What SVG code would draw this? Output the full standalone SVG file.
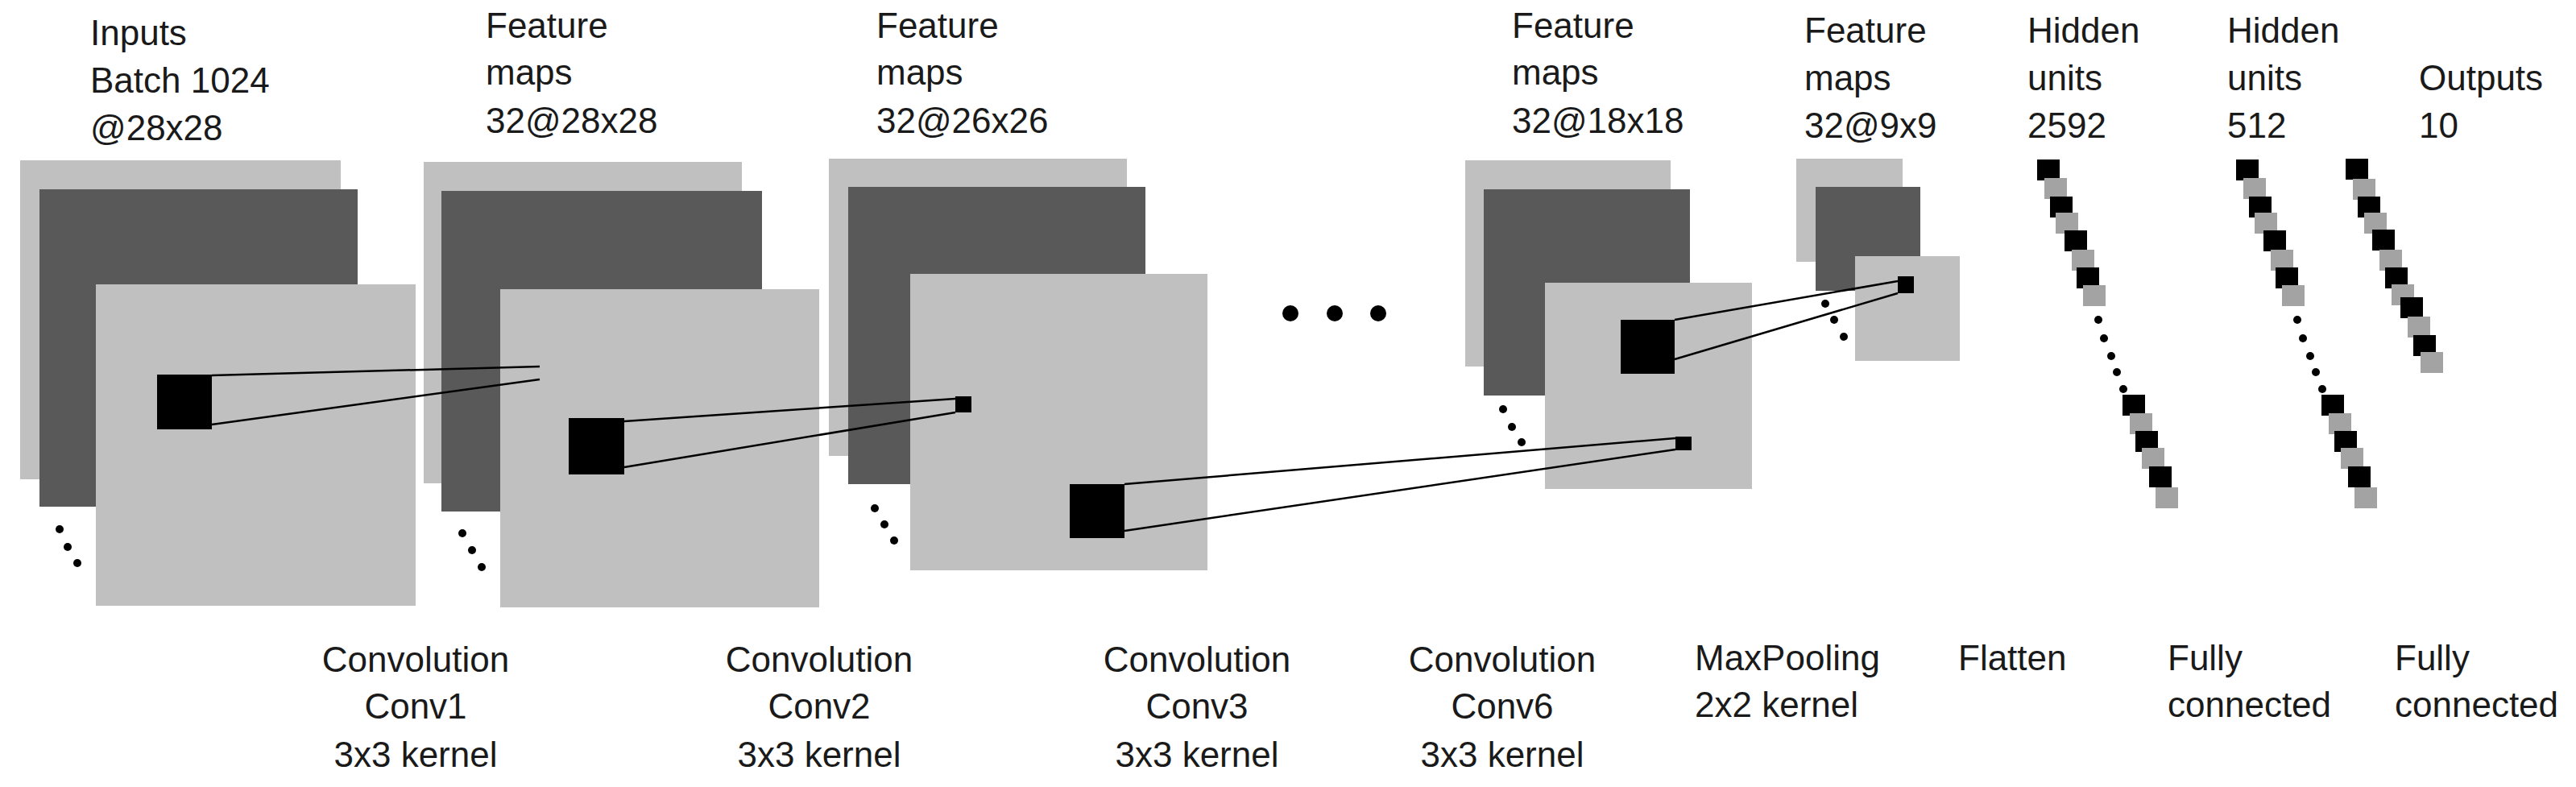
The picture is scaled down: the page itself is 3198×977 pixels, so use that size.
<svg xmlns="http://www.w3.org/2000/svg" width="3198" height="977" viewBox="0 0 3198 977">
<style>
text{font-family:"Liberation Sans",Arial,sans-serif;font-size:44px;fill:#1a1a1a}
.c{text-anchor:middle}
.l{fill:#c0c0c0}.d{fill:#595959}.k{fill:#000}.g{fill:#a3a3a3}
.ln{stroke:#000;stroke-width:2.5;fill:none}
</style>
<defs>
<rect id="bs" x="-14" y="-13" width="28" height="26" fill="#000"/>
<rect id="gs" x="-14" y="-13" width="28" height="26" fill="#a3a3a3"/>
<circle id="dt" r="5" fill="#000"/>
</defs>
<rect width="3198" height="977" fill="#fff"/>
<g id="stack1">
<text x="112" y="56">Inputs</text><text x="112" y="115">Batch 1024</text><text x="112" y="174">@28x28</text>
<rect class="l" x="25" y="199" width="398" height="396"/>
<rect class="d" x="49" y="235" width="395" height="394"/>
<rect class="l" x="119" y="353" width="397" height="399"/>
<rect class="k" x="195" y="465" width="68" height="68"/>
<rect class="k" x="670" y="451" width="21" height="21"/>
<use href="#dt" x="74" y="657"/><use href="#dt" x="84" y="679"/><use href="#dt" x="96" y="699"/>
</g>
<g id="stack2">
<text x="603" y="47">Feature</text><text x="603" y="105">maps</text><text x="603" y="165">32@28x28</text>
<rect class="l" x="526" y="201" width="395" height="399"/>
<rect class="d" x="548" y="237" width="398" height="398"/>
<rect class="l" x="621" y="359" width="396" height="395"/>
<rect class="k" x="706" y="519" width="69" height="70"/>
<use href="#dt" x="574" y="662"/><use href="#dt" x="586" y="683"/><use href="#dt" x="598" y="704"/>
</g>
<g id="stack3">
<text x="1088" y="47">Feature</text><text x="1088" y="105">maps</text><text x="1088" y="165">32@26x26</text>
<rect class="l" x="1029" y="197" width="370" height="369"/>
<rect class="d" x="1053" y="232" width="369" height="369"/>
<rect class="l" x="1130" y="340" width="369" height="368"/>
<rect class="k" x="1186" y="492" width="20" height="20"/>
<rect class="k" x="1328" y="601" width="68" height="67"/>
<use href="#dt" x="1086" y="631"/><use href="#dt" x="1098" y="651"/><use href="#dt" x="1110" y="671"/>
</g>
<g id="ellipsis">
<circle cx="1602" cy="389" r="10"/><circle cx="1657" cy="389" r="10"/><circle cx="1711" cy="389" r="10"/>
</g>
<g id="stack4">
<text x="1877" y="47">Feature</text><text x="1877" y="105">maps</text><text x="1877" y="165">32@18x18</text>
<rect class="l" x="1819" y="199" width="255" height="256"/>
<rect class="d" x="1842" y="235" width="256" height="256"/>
<rect class="l" x="1918" y="351" width="257" height="256"/>
<rect class="k" x="2012" y="397" width="67" height="67"/>
<rect class="k" x="2080" y="542" width="20" height="17"/>
<use href="#dt" x="1866" y="508"/><use href="#dt" x="1877" y="530"/><use href="#dt" x="1889" y="549"/>
</g>
<g id="stack5">
<text x="2240" y="53">Feature</text><text x="2240" y="112">maps</text><text x="2240" y="171">32@9x9</text>
<rect class="l" x="2230" y="197" width="132" height="128"/>
<rect class="d" x="2254" y="232" width="130" height="129"/>
<rect class="l" x="2303" y="318" width="130" height="130"/>
<rect class="k" x="2356" y="343" width="20" height="21"/>
<use href="#dt" x="2266" y="377"/><use href="#dt" x="2277" y="397"/><use href="#dt" x="2289" y="418"/>
</g>
<g id="hidden2592">
<text x="2517" y="53">Hidden</text><text x="2517" y="112">units</text><text x="2517" y="171">2592</text>
<use href="#bs" x="2543" y="211"/><use href="#gs" x="2552" y="234"/><use href="#bs" x="2559" y="257"/><use href="#gs" x="2566" y="277"/>
<use href="#bs" x="2577" y="299"/><use href="#gs" x="2586" y="323"/><use href="#bs" x="2592" y="345"/><use href="#gs" x="2600" y="367"/>
<use href="#dt" x="2605" y="397"/><use href="#dt" x="2612" y="420"/><use href="#dt" x="2621" y="442"/><use href="#dt" x="2628" y="462"/><use href="#dt" x="2636" y="483"/>
<use href="#bs" x="2649" y="503"/><use href="#gs" x="2658" y="526"/><use href="#bs" x="2665" y="548"/><use href="#gs" x="2673" y="569"/><use href="#bs" x="2682" y="592"/><use href="#gs" x="2690" y="618"/>
</g>
<g id="hidden512">
<text x="2765" y="53">Hidden</text><text x="2765" y="112">units</text><text x="2765" y="171">512</text>
<g transform="translate(247,0)">
<use href="#bs" x="2543" y="211"/><use href="#gs" x="2552" y="234"/><use href="#bs" x="2559" y="257"/><use href="#gs" x="2566" y="277"/>
<use href="#bs" x="2577" y="299"/><use href="#gs" x="2586" y="323"/><use href="#bs" x="2592" y="345"/><use href="#gs" x="2600" y="367"/>
<use href="#dt" x="2605" y="397"/><use href="#dt" x="2612" y="420"/><use href="#dt" x="2621" y="442"/><use href="#dt" x="2628" y="462"/><use href="#dt" x="2636" y="483"/>
<use href="#bs" x="2649" y="503"/><use href="#gs" x="2658" y="526"/><use href="#bs" x="2665" y="548"/><use href="#gs" x="2673" y="569"/><use href="#bs" x="2682" y="592"/><use href="#gs" x="2690" y="618"/>
</g>
</g>
<g id="outputs">
<text x="3003" y="112">Outputs</text><text x="3003" y="171">10</text>
<use href="#bs" x="2926" y="210"/><use href="#gs" x="2935" y="235"/><use href="#bs" x="2941" y="257"/><use href="#gs" x="2949" y="277"/>
<use href="#bs" x="2959" y="298"/><use href="#gs" x="2968" y="323"/><use href="#bs" x="2975" y="345"/><use href="#gs" x="2983" y="366"/>
<use href="#bs" x="2994" y="382"/><use href="#gs" x="3003" y="406"/><use href="#bs" x="3010" y="429"/><use href="#gs" x="3019" y="450"/>
</g>
<g id="connectors">
<line class="ln" x1="263" y1="466" x2="670" y2="455"/><line class="ln" x1="263" y1="527" x2="670" y2="471"/>
<line class="ln" x1="775" y1="523" x2="1186" y2="495"/><line class="ln" x1="775" y1="580" x2="1186" y2="512"/>
<line class="ln" x1="1396" y1="601" x2="2080" y2="544"/><line class="ln" x1="1396" y1="659" x2="2080" y2="558"/>
<line class="ln" x1="2079" y1="397" x2="2356" y2="349"/><line class="ln" x1="2079" y1="446" x2="2356" y2="364"/>
</g>
<g id="labels">
<text class="c" x="516" y="834">Convolution</text><text class="c" x="516" y="892">Conv1</text><text class="c" x="516" y="952">3x3 kernel</text>
<text class="c" x="1017" y="834">Convolution</text><text class="c" x="1017" y="892">Conv2</text><text class="c" x="1017" y="952">3x3 kernel</text>
<text class="c" x="1486" y="834">Convolution</text><text class="c" x="1486" y="892">Conv3</text><text class="c" x="1486" y="952">3x3 kernel</text>
<text class="c" x="1865" y="834">Convolution</text><text class="c" x="1865" y="892">Conv6</text><text class="c" x="1865" y="952">3x3 kernel</text>
<text x="2104" y="832">MaxPooling</text><text x="2104" y="890">2x2 kernel</text>
<text x="2431" y="832">Flatten</text>
<text x="2691" y="832">Fully</text><text x="2691" y="890">connected</text>
<text x="2973" y="832">Fully</text><text x="2973" y="890">connected</text>
</g>
</svg>
